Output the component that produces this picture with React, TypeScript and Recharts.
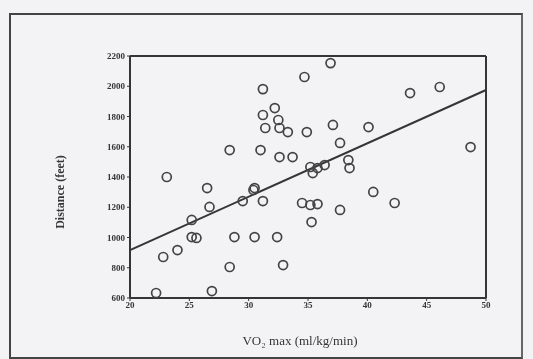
import React from 'react';
import { ScatterChart, Scatter, XAxis, YAxis, ReferenceLine } from 'recharts';

const vo2 = [22.2, 26.9, 23.1, 26.5, 26.7, 25.2, 30.5, 31.2, 29.5, 25.2, 25.6, 24.0, 22.8, 28.8, 30.5, 32.4, 28.4, 32.9, 34.5, 34.7, 31.2, 32.2, 31.2, 32.5, 31.4, 32.6, 33.3, 34.9, 28.4, 31.0, 32.6, 33.7, 36.9, 43.6, 46.1, 37.1, 40.1, 37.7, 38.4, 38.5, 48.7, 35.2, 35.8, 36.4, 35.4, 40.5, 42.3, 37.7, 35.3, 35.2, 35.8, 30.4];
const distance = [633, 646, 1400, 1327, 1202, 1116, 1327, 1241, 1241, 1003, 997, 917, 871, 1003, 1003, 1003, 805, 818, 1228, 2061, 1981, 1856, 1810, 1777, 1724, 1724, 1697, 1697, 1578, 1578, 1532, 1532, 2153, 1955, 1995, 1744, 1730, 1625, 1512, 1459, 1598, 1466, 1459, 1479, 1426, 1301, 1228, 1182, 1102, 1215, 1221, 1314];
const xTicks = [20, 25, 30, 35, 40, 45, 50];
const yTicks = [600, 800, 1000, 1200, 1400, 1600, 1800, 2000, 2200];
const fitX = [20, 50];
const fitY = [917, 1975];

const points = vo2.map((x, i) => ({ x, y: distance[i] }));

const INK = '#353537';
const FONT = '"Liberation Serif", "DejaVu Serif", serif';

const Dot = (props: any) => (
  <circle cx={props.cx} cy={props.cy} r={4.5} fill="none" stroke="#444446" strokeWidth={1.7} />
);

const YLabel = (props: any) => {
  const cx = 60;
  const cy = 192;
  return (
    <text x={cx} y={cy} transform={`rotate(-90 ${cx} ${cy})`} textAnchor="middle" dominantBaseline="central"
      fontFamily={FONT} fontSize={12} fontWeight="bold" fill={INK}>
      Distance (feet)
    </text>
  );
};

const XLabel = (props: any) => (
  <text x={300} y={340} textAnchor="middle" dominantBaseline="central"
    fontFamily={FONT} fontSize={13} fill={INK}>
    VO₂ max (ml/kg/min)
  </text>
);

export default function App() {
  return (
    <div style={{ position: 'absolute', left: 0, top: 0, width: 533, height: 359, background: '#f3f3f5', overflow: 'hidden', filter: 'blur(0.5px)' }}>
      <div style={{ position: 'absolute', left: 9, top: 13, width: 514, height: 346, borderLeft: '2px solid #444', borderTop: '2px solid #444', borderRight: '2px solid #666', borderBottom: '2px solid #444', boxSizing: 'border-box' }} />
      <div style={{ position: 'absolute', left: 0, top: 0 }}>
        <ScatterChart width={533} height={359} margin={{ top: 56, right: 47, bottom: 0, left: 0 }}>
          <XAxis type="number" dataKey="x" domain={[20, 50]} ticks={xTicks} height={61}
            axisLine={{ stroke: INK, strokeWidth: 2 }} tickLine={{ stroke: INK }} tickSize={3} tickMargin={1}
            tick={{ fontSize: 9, fontFamily: FONT, fontWeight: 'bold', fill: INK }}
            label={<XLabel />} />
          <YAxis type="number" dataKey="y" domain={[600, 2200]} ticks={yTicks} width={130}
            axisLine={{ stroke: INK, strokeWidth: 2 }} tickLine={{ stroke: INK }} tickSize={3} tickMargin={2}
            tick={{ fontSize: 9, fontFamily: FONT, fontWeight: 'bold', fill: INK }}
            label={<YLabel />} />
          <ReferenceLine y={2200} stroke={INK} strokeWidth={2} />
          <ReferenceLine x={50} stroke={INK} strokeWidth={2} />
          <ReferenceLine segment={[{ x: fitX[0], y: fitY[0] }, { x: fitX[1], y: fitY[1] }]} stroke={INK} strokeWidth={2} />
          <Scatter data={points} shape={<Dot />} isAnimationActive={false} />
        </ScatterChart>
      </div>
    </div>
  );
}
